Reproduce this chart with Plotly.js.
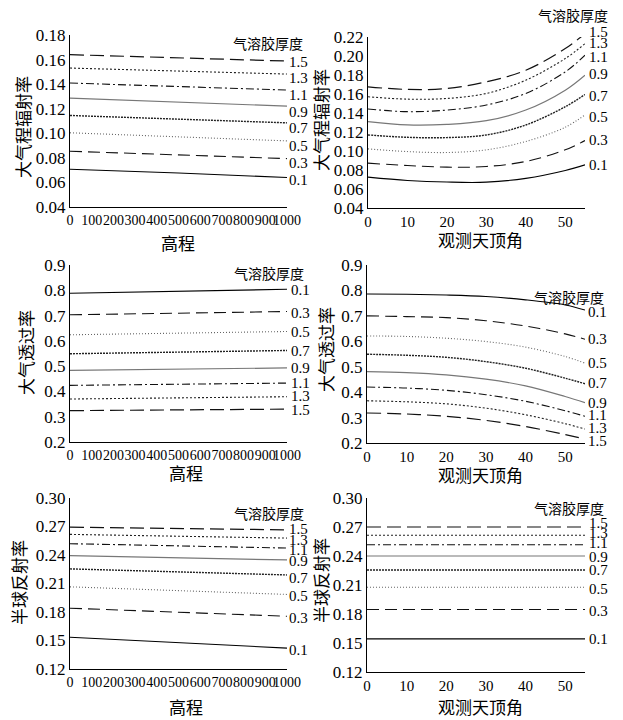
<!DOCTYPE html>
<html><head><meta charset="utf-8">
<script src="https://cdn.plot.ly/plotly-3.0.1.min.js"></script>
<style>body{margin:0;background:#fff}#c{width:623px;height:720px}</style>
</head><body><div id="c"></div>
<script>
// ---------- data ----------
const aod = ['0.1','0.3','0.5','0.7','0.9','1.1','1.3','1.5'];
const elev = [0, 500, 1000];
const zen = [0, 10, 20, 30, 40, 50, 55];
const zenFlat = [0, 55];

// path radiance vs elevation
const pathElev = [
  [0.0707, 0.0677, 0.0640],
  [0.0854, 0.0825, 0.0794],
  [0.1004, 0.0970, 0.0938],
  [0.1145, 0.1115, 0.1085],
  [0.1286, 0.1255, 0.1221],
  [0.1409, 0.1380, 0.1352],
  [0.1531, 0.1505, 0.1482],
  [0.1640, 0.1615, 0.1588]
];
// path radiance vs view zenith
const pathZen = [
  [0.0725, 0.0690, 0.0673, 0.0672, 0.0712, 0.0795, 0.0854],
  [0.0872, 0.0847, 0.0830, 0.0837, 0.0890, 0.1012, 0.1110],
  [0.1022, 0.0994, 0.0984, 0.1012, 0.1100, 0.1250, 0.1380],
  [0.1169, 0.1144, 0.1141, 0.1169, 0.1274, 0.1466, 0.1595],
  [0.1309, 0.1274, 0.1280, 0.1319, 0.1431, 0.1640, 0.1798],
  [0.1442, 0.1414, 0.1431, 0.1484, 0.1606, 0.1833, 0.2008],
  [0.1571, 0.1546, 0.1553, 0.1606, 0.1746, 0.1973, 0.2130],
  [0.1676, 0.1648, 0.1658, 0.1728, 0.1850, 0.2078, 0.2235]
];
// transmittance vs elevation
const transElev = [
  [0.788, 0.796, 0.804],
  [0.703, 0.710, 0.716],
  [0.624, 0.631, 0.637],
  [0.549, 0.556, 0.562],
  [0.483, 0.488, 0.493],
  [0.424, 0.429, 0.433],
  [0.370, 0.375, 0.379],
  [0.324, 0.327, 0.330]
];
// transmittance vs view zenith
const transZen = [
  [0.786, 0.785, 0.782, 0.776, 0.763, 0.743, 0.723],
  [0.700, 0.697, 0.693, 0.681, 0.660, 0.629, 0.608],
  [0.621, 0.619, 0.612, 0.599, 0.577, 0.540, 0.514],
  [0.549, 0.545, 0.537, 0.520, 0.494, 0.455, 0.433],
  [0.481, 0.477, 0.468, 0.451, 0.425, 0.383, 0.359],
  [0.420, 0.416, 0.407, 0.390, 0.364, 0.327, 0.305],
  [0.366, 0.362, 0.354, 0.337, 0.311, 0.276, 0.255],
  [0.318, 0.314, 0.305, 0.289, 0.265, 0.233, 0.216]
];
// hemispheric albedo vs elevation
const albElev = [
  [0.1535, 0.1480, 0.1420],
  [0.1840, 0.1800, 0.1755],
  [0.2065, 0.2025, 0.1985],
  [0.2254, 0.2220, 0.2190],
  [0.2393, 0.2370, 0.2348],
  [0.2519, 0.2495, 0.2473],
  [0.2617, 0.2597, 0.2578],
  [0.2693, 0.2680, 0.2665]
];
// hemispheric albedo vs view zenith (flat)
const albZen = [
  [0.1543, 0.1543],
  [0.1846, 0.1846],
  [0.2076, 0.2076],
  [0.2255, 0.2255],
  [0.2400, 0.2400],
  [0.2517, 0.2517],
  [0.2614, 0.2614],
  [0.2700, 0.2700]
];

const elevTicks = [0,100,200,300,400,500,600,700,800,900,1000];
const elevTickText = ['0','100','200','300','400','500','600','700','800','900','1000'];
const zenTicks = [0,10,20,30,40,50];
const zenTickText = ['0','10','20','30','40','50'];
const pathTicks1 = [0.04,0.06,0.08,0.10,0.12,0.14,0.16,0.18];
const pathTickText1 = ['0.04','0.06','0.08','0.10','0.12','0.14','0.16','0.18'];
const pathTicks2 = [0.04,0.06,0.08,0.10,0.12,0.14,0.16,0.18,0.20,0.22];
const pathTickText2 = ['0.04','0.06','0.08','0.10','0.12','0.14','0.16','0.18','0.20','0.22'];
const transTicks = [0.2,0.3,0.4,0.5,0.6,0.7,0.8,0.9];
const transTickText = ['0.2','0.3','0.4','0.5','0.6','0.7','0.8','0.9'];
const albTicks = [0.12,0.15,0.18,0.21,0.24,0.27,0.30];
const albTickText = ['0.12','0.15','0.18','0.21','0.24','0.27','0.30'];

const yTitles = ['大气程辐射率','大气程辐射率','大气透过率','大气透过率','半球反射率','半球反射率'];
const xTitles = ['高程','观测天顶角','高程','观测天顶角','高程','观测天顶角'];
const legendTitle = '气溶胶厚度';

// ---------- styles / layout geometry (pixels) ----------
const W = 623, H = 720;
const fx = p => p / W;
const fy = p => 1 - p / H;
const styles = [
  {color:'#000', dash:'solid', width:1.1},
  {color:'#111', dash:'12px,6px', width:1.1},
  {color:'#666', dash:'1px,2px', width:1.1},
  {color:'#222', dash:'2px,1px', width:1.4},
  {color:'#777', dash:'solid', width:1.2},
  {color:'#111', dash:'8px,3px,2px,3px', width:1.1},
  {color:'#222', dash:'2px,2px', width:1.1},
  {color:'#111', dash:'14px,6px', width:1.2}
];

const panels = [
  {x: elev, ys: pathElev, xr:[0,1000], yr:[0.04,0.18], px:[70,287], py:[35,207],
   xt: elevTicks, xtt: elevTickText, yt: pathTicks1, ytt: pathTickText1,
   labX: 287, labY:[180,163,146,128,112,95,78,62], legX:305, legY:43,
   yTitX:22, yTitY:127, xTitX:178, xTitY:242, xfs:14, spline:false},
  {x: zen, ys: pathZen, xr:[0,55], yr:[0.04,0.22], px:[368,585], py:[37,208],
   xt: zenTicks, xtt: zenTickText, yt: pathTicks2, ytt: pathTickText2,
   labX: 587, labY:[165,140,117,96,74,57,43,32], legX:610, legY:15,
   yTitX:321, yTitY:120, xTitX:480, xTitY:240, xfs:15, spline:true},
  {x: elev, ys: transElev, xr:[0,1000], yr:[0.2,0.9], px:[70,287], py:[265,442],
   xt: elevTicks, xtt: elevTickText, yt: transTicks, ytt: transTickText,
   labX: 289, labY:[290,313,332,351,368,383,396,410], legX:306, legY:273,
   yTitX:25, yTitY:353, xTitX:186, xTitY:472, xfs:14, spline:false},
  {x: zen, ys: transZen, xr:[0,55], yr:[0.2,0.9], px:[367,585], py:[265,443],
   xt: zenTicks, xtt: zenTickText, yt: transTicks, ytt: transTickText,
   labX: 586, labY:[312,339,363,383,403,415,428,441], legX:606, legY:297,
   yTitX:325, yTitY:350, xTitX:480, xTitY:474, xfs:15, spline:true},
  {x: elev, ys: albElev, xr:[0,1000], yr:[0.12,0.30], px:[70,287], py:[498,669],
   xt: elevTicks, xtt: elevTickText, yt: albTicks, ytt: albTickText,
   labX: 287, labY:[650,618,596,578,561,550,540,529], legX:306, legY:513,
   yTitX:18, yTitY:583, xTitX:186, xTitY:706, xfs:14, spline:false},
  {x: zenFlat, ys: albZen, xr:[0,55], yr:[0.12,0.30], px:[367,585], py:[498,672],
   xt: zenTicks, xtt: zenTickText, yt: albTicks, ytt: albTickText,
   labX: 587, labY:[639,611,589,570,557,543,533,523], legX:606, legY:508,
   yTitX:320, yTitY:580, xTitX:480, xTitY:706, xfs:15, spline:false}
];

const numFont = 'Liberation Serif';
const cjkFont = 'Noto Sans CJK SC';

const traces = [];
const layout = {
  width: W, height: H, margin:{l:0,r:0,t:0,b:0},
  paper_bgcolor:'#fff', plot_bgcolor:'#fff', showlegend:false,
  annotations: []
};

panels.forEach((p, i) => {
  const k = i === 0 ? '' : String(i + 1);
  p.ys.forEach((vals, j) => {
    traces.push({
      type:'scatter', mode:'lines', x: p.x, y: vals,
      xaxis:'x' + k, yaxis:'y' + k, name: aod[j], hoverinfo:'skip',
      line: Object.assign({shape: p.spline ? 'spline' : 'linear', smoothing: 1.0}, styles[j])
    });
    layout.annotations.push({
      xref:'paper', yref:'paper', x: fx(p.labX), y: fy(p.labY[j]),
      xanchor:'left', yanchor:'middle', showarrow:false, text: aod[j],
      font:{family: numFont, size:15, color:'#000'}
    });
  });
  layout['xaxis' + k] = {
    domain:[fx(p.px[0]), fx(p.px[1])], range:p.xr, anchor:'y' + k,
    tickvals:p.xt, ticktext:p.xtt, tickangle:0, ticks:'',
    showline:true, linecolor:'#000', linewidth:1, showgrid:false, zeroline:false,
    tickfont:{family:numFont, size:p.xfs, color:'#000'}, fixedrange:true
  };
  layout['yaxis' + k] = {
    domain:[fy(p.py[1]), fy(p.py[0])], range:p.yr, anchor:'x' + k,
    tickvals:p.yt, ticktext:p.ytt, ticks:'',
    showline:true, linecolor:'#000', linewidth:1, showgrid:false, zeroline:false,
    tickfont:{family:numFont, size:17, color:'#000'}, fixedrange:true
  };
  layout.annotations.push({
    xref:'paper', yref:'paper', x: fx(p.legX), y: fy(p.legY),
    xanchor:'right', yanchor:'middle', showarrow:false, text: legendTitle,
    font:{family: cjkFont, size:14, color:'#000'}
  });
  layout.annotations.push({
    xref:'paper', yref:'paper', x: fx(p.yTitX), y: fy(p.yTitY),
    xanchor:'center', yanchor:'middle', showarrow:false, text: yTitles[i], textangle:-90,
    font:{family: cjkFont, size:17, color:'#000'}
  });
  layout.annotations.push({
    xref:'paper', yref:'paper', x: fx(p.xTitX), y: fy(p.xTitY),
    xanchor:'center', yanchor:'middle', showarrow:false, text: xTitles[i],
    font:{family: cjkFont, size:17, color:'#000'}
  });
});

Plotly.newPlot('c', traces, layout, {staticPlot:true, displayModeBar:false});
</script>
</body></html>
